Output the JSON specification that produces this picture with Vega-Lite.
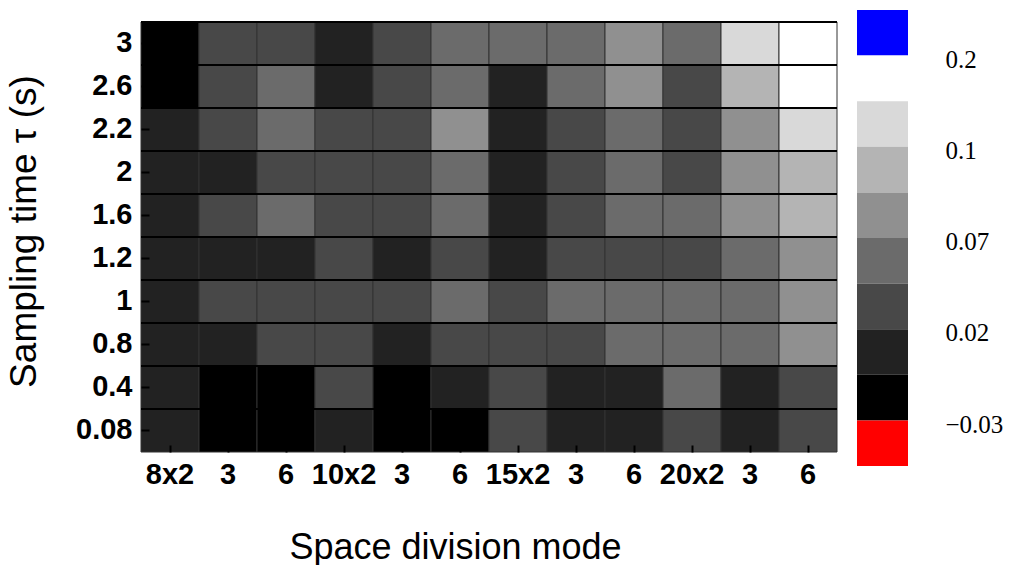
{
  "$schema": "https://vega.github.io/schema/vega-lite/v6.json",
  "padding": {"left": 5, "top": 10, "right": 0, "bottom": 0},
  "background": "white",
  "config": {"view": {"stroke": null}, "concat": {"spacing": 19}},
  "datasets": {
    "cells": [
      {"mode": "8x2", "tau": 3, "level": 0}, {"mode": "8x3", "tau": 3, "level": 2}, {"mode": "8x6", "tau": 3, "level": 2},
      {"mode": "10x2", "tau": 3, "level": 1}, {"mode": "10x3", "tau": 3, "level": 2}, {"mode": "10x6", "tau": 3, "level": 3},
      {"mode": "15x2", "tau": 3, "level": 3}, {"mode": "15x3", "tau": 3, "level": 3}, {"mode": "15x6", "tau": 3, "level": 4},
      {"mode": "20x2", "tau": 3, "level": 3}, {"mode": "20x3", "tau": 3, "level": 6}, {"mode": "20x6", "tau": 3, "level": 7},

      {"mode": "8x2", "tau": 2.6, "level": 0}, {"mode": "8x3", "tau": 2.6, "level": 2}, {"mode": "8x6", "tau": 2.6, "level": 3},
      {"mode": "10x2", "tau": 2.6, "level": 1}, {"mode": "10x3", "tau": 2.6, "level": 2}, {"mode": "10x6", "tau": 2.6, "level": 3},
      {"mode": "15x2", "tau": 2.6, "level": 1}, {"mode": "15x3", "tau": 2.6, "level": 3}, {"mode": "15x6", "tau": 2.6, "level": 4},
      {"mode": "20x2", "tau": 2.6, "level": 2}, {"mode": "20x3", "tau": 2.6, "level": 5}, {"mode": "20x6", "tau": 2.6, "level": 7},

      {"mode": "8x2", "tau": 2.2, "level": 1}, {"mode": "8x3", "tau": 2.2, "level": 2}, {"mode": "8x6", "tau": 2.2, "level": 3},
      {"mode": "10x2", "tau": 2.2, "level": 2}, {"mode": "10x3", "tau": 2.2, "level": 2}, {"mode": "10x6", "tau": 2.2, "level": 4},
      {"mode": "15x2", "tau": 2.2, "level": 1}, {"mode": "15x3", "tau": 2.2, "level": 2}, {"mode": "15x6", "tau": 2.2, "level": 3},
      {"mode": "20x2", "tau": 2.2, "level": 2}, {"mode": "20x3", "tau": 2.2, "level": 4}, {"mode": "20x6", "tau": 2.2, "level": 6},

      {"mode": "8x2", "tau": 2, "level": 1}, {"mode": "8x3", "tau": 2, "level": 1}, {"mode": "8x6", "tau": 2, "level": 2},
      {"mode": "10x2", "tau": 2, "level": 2}, {"mode": "10x3", "tau": 2, "level": 2}, {"mode": "10x6", "tau": 2, "level": 3},
      {"mode": "15x2", "tau": 2, "level": 1}, {"mode": "15x3", "tau": 2, "level": 2}, {"mode": "15x6", "tau": 2, "level": 3},
      {"mode": "20x2", "tau": 2, "level": 2}, {"mode": "20x3", "tau": 2, "level": 4}, {"mode": "20x6", "tau": 2, "level": 5},

      {"mode": "8x2", "tau": 1.6, "level": 1}, {"mode": "8x3", "tau": 1.6, "level": 2}, {"mode": "8x6", "tau": 1.6, "level": 3},
      {"mode": "10x2", "tau": 1.6, "level": 2}, {"mode": "10x3", "tau": 1.6, "level": 2}, {"mode": "10x6", "tau": 1.6, "level": 3},
      {"mode": "15x2", "tau": 1.6, "level": 1}, {"mode": "15x3", "tau": 1.6, "level": 2}, {"mode": "15x6", "tau": 1.6, "level": 3},
      {"mode": "20x2", "tau": 1.6, "level": 3}, {"mode": "20x3", "tau": 1.6, "level": 4}, {"mode": "20x6", "tau": 1.6, "level": 5},

      {"mode": "8x2", "tau": 1.2, "level": 1}, {"mode": "8x3", "tau": 1.2, "level": 1}, {"mode": "8x6", "tau": 1.2, "level": 1},
      {"mode": "10x2", "tau": 1.2, "level": 2}, {"mode": "10x3", "tau": 1.2, "level": 1}, {"mode": "10x6", "tau": 1.2, "level": 2},
      {"mode": "15x2", "tau": 1.2, "level": 1}, {"mode": "15x3", "tau": 1.2, "level": 2}, {"mode": "15x6", "tau": 1.2, "level": 2},
      {"mode": "20x2", "tau": 1.2, "level": 2}, {"mode": "20x3", "tau": 1.2, "level": 3}, {"mode": "20x6", "tau": 1.2, "level": 4},

      {"mode": "8x2", "tau": 1, "level": 1}, {"mode": "8x3", "tau": 1, "level": 2}, {"mode": "8x6", "tau": 1, "level": 2},
      {"mode": "10x2", "tau": 1, "level": 2}, {"mode": "10x3", "tau": 1, "level": 2}, {"mode": "10x6", "tau": 1, "level": 3},
      {"mode": "15x2", "tau": 1, "level": 2}, {"mode": "15x3", "tau": 1, "level": 3}, {"mode": "15x6", "tau": 1, "level": 3},
      {"mode": "20x2", "tau": 1, "level": 3}, {"mode": "20x3", "tau": 1, "level": 3}, {"mode": "20x6", "tau": 1, "level": 4},

      {"mode": "8x2", "tau": 0.8, "level": 1}, {"mode": "8x3", "tau": 0.8, "level": 1}, {"mode": "8x6", "tau": 0.8, "level": 2},
      {"mode": "10x2", "tau": 0.8, "level": 2}, {"mode": "10x3", "tau": 0.8, "level": 1}, {"mode": "10x6", "tau": 0.8, "level": 2},
      {"mode": "15x2", "tau": 0.8, "level": 2}, {"mode": "15x3", "tau": 0.8, "level": 2}, {"mode": "15x6", "tau": 0.8, "level": 3},
      {"mode": "20x2", "tau": 0.8, "level": 3}, {"mode": "20x3", "tau": 0.8, "level": 3}, {"mode": "20x6", "tau": 0.8, "level": 4},

      {"mode": "8x2", "tau": 0.4, "level": 1}, {"mode": "8x3", "tau": 0.4, "level": 0}, {"mode": "8x6", "tau": 0.4, "level": 0},
      {"mode": "10x2", "tau": 0.4, "level": 2}, {"mode": "10x3", "tau": 0.4, "level": 0}, {"mode": "10x6", "tau": 0.4, "level": 1},
      {"mode": "15x2", "tau": 0.4, "level": 2}, {"mode": "15x3", "tau": 0.4, "level": 1}, {"mode": "15x6", "tau": 0.4, "level": 1},
      {"mode": "20x2", "tau": 0.4, "level": 3}, {"mode": "20x3", "tau": 0.4, "level": 1}, {"mode": "20x6", "tau": 0.4, "level": 2},

      {"mode": "8x2", "tau": 0.08, "level": 1}, {"mode": "8x3", "tau": 0.08, "level": 0}, {"mode": "8x6", "tau": 0.08, "level": 0},
      {"mode": "10x2", "tau": 0.08, "level": 1}, {"mode": "10x3", "tau": 0.08, "level": 0}, {"mode": "10x6", "tau": 0.08, "level": 0},
      {"mode": "15x2", "tau": 0.08, "level": 2}, {"mode": "15x3", "tau": 0.08, "level": 1}, {"mode": "15x6", "tau": 0.08, "level": 1},
      {"mode": "20x2", "tau": 0.08, "level": 2}, {"mode": "20x3", "tau": 0.08, "level": 1}, {"mode": "20x6", "tau": 0.08, "level": 2}
    ],
    "legend": [
      {"level": 8}, {"level": 7}, {"level": 6}, {"level": 5}, {"level": 4},
      {"level": 3}, {"level": 2}, {"level": 1}, {"level": 0}, {"level": -1}
    ]
  },
  "hconcat": [
    {
      "width": 696,
      "height": 442,
      "data": {"name": "cells"},
      "layer": [
        {
          "mark": {"type": "rect", "stroke": "#333333", "strokeWidth": 1},
          "encoding": {
            "x": {
              "field": "mode", "type": "nominal", "sort": null,
              "scale": {"paddingInner": 0, "paddingOuter": 0},
              "axis": {
                "labelAngle": 0,
                "labelExpr": "indexof(datum.value, 'x2') >= 0 ? datum.value : split(datum.value, 'x')[1]",
                "labelFont": "Liberation Sans", "labelFontWeight": "bold", "labelFontSize": 29, "labelColor": "black",
                "labelPadding": 15, "ticks": true, "tickSize": -7, "tickWidth": 2, "tickColor": "black", "domain": false, "zindex": 2,
                "title": "Space division mode", "titleFont": "Liberation Sans", "titleFontWeight": "normal",
                "titleFontSize": 36, "titleColor": "black", "titlePadding": 41, "titleX": 314, "titleAlign": "center"
              }
            },
            "y": {
              "field": "tau", "type": "ordinal", "sort": "descending",
              "scale": {"paddingInner": 0, "paddingOuter": 0.1395, "align": 1},
              "axis": {
                "labelFont": "Liberation Sans", "labelFontWeight": "bold", "labelFontSize": 29, "labelColor": "black",
                "labelPadding": 17, "ticks": true, "tickSize": -8, "tickWidth": 2, "tickColor": "black", "domain": false, "zindex": 2,
                "title": "Sampling time τ (s)", "titleFont": "Liberation Sans", "titleFontWeight": "normal",
                "titleFontSize": 37, "titleColor": "black", "titlePadding": 32
              }
            },
            "color": {
              "field": "level", "type": "ordinal",
              "scale": {
                "domain": [-1, 0, 1, 2, 3, 4, 5, 6, 7, 8],
                "range": ["#ff0000", "#000000", "#222222", "#484848", "#6b6b6b", "#909090", "#b4b4b4", "#d9d9d9", "#ffffff", "#0000ff"]
              },
              "legend": null
            }
          }
        },
        {
          "mark": {"type": "rule", "color": "black", "strokeWidth": 1.5},
          "encoding": {
            "y": {"field": "tau", "type": "ordinal", "sort": "descending", "bandPosition": 0}
          }
        }
      ]
    },
    {
      "width": 51,
      "height": 456,
      "data": {"name": "legend"},
      "mark": {"type": "rect"},
      "encoding": {
        "y": {
          "field": "level", "type": "ordinal", "sort": "descending",
          "scale": {"paddingInner": 0, "paddingOuter": 0},
          "axis": {
            "orient": "right", "values": [8, 6, 4, 2, 0], "labelOffset": 27,
            "labelExpr": "datum.value == 8 ? '0.2' : datum.value == 6 ? '0.1' : datum.value == 4 ? '0.07' : datum.value == 2 ? '0.02' : '−0.03'",
            "labelFont": "Liberation Serif", "labelFontSize": 25, "labelColor": "black",
            "labelPadding": 37, "ticks": false, "domain": false, "title": null
          }
        },
        "color": {
          "field": "level", "type": "ordinal",
          "scale": {
            "domain": [-1, 0, 1, 2, 3, 4, 5, 6, 7, 8],
            "range": ["#ff0000", "#000000", "#222222", "#484848", "#6b6b6b", "#909090", "#b4b4b4", "#d9d9d9", "#ffffff", "#0000ff"]
          },
          "legend": null
        }
      }
    }
  ]
}
